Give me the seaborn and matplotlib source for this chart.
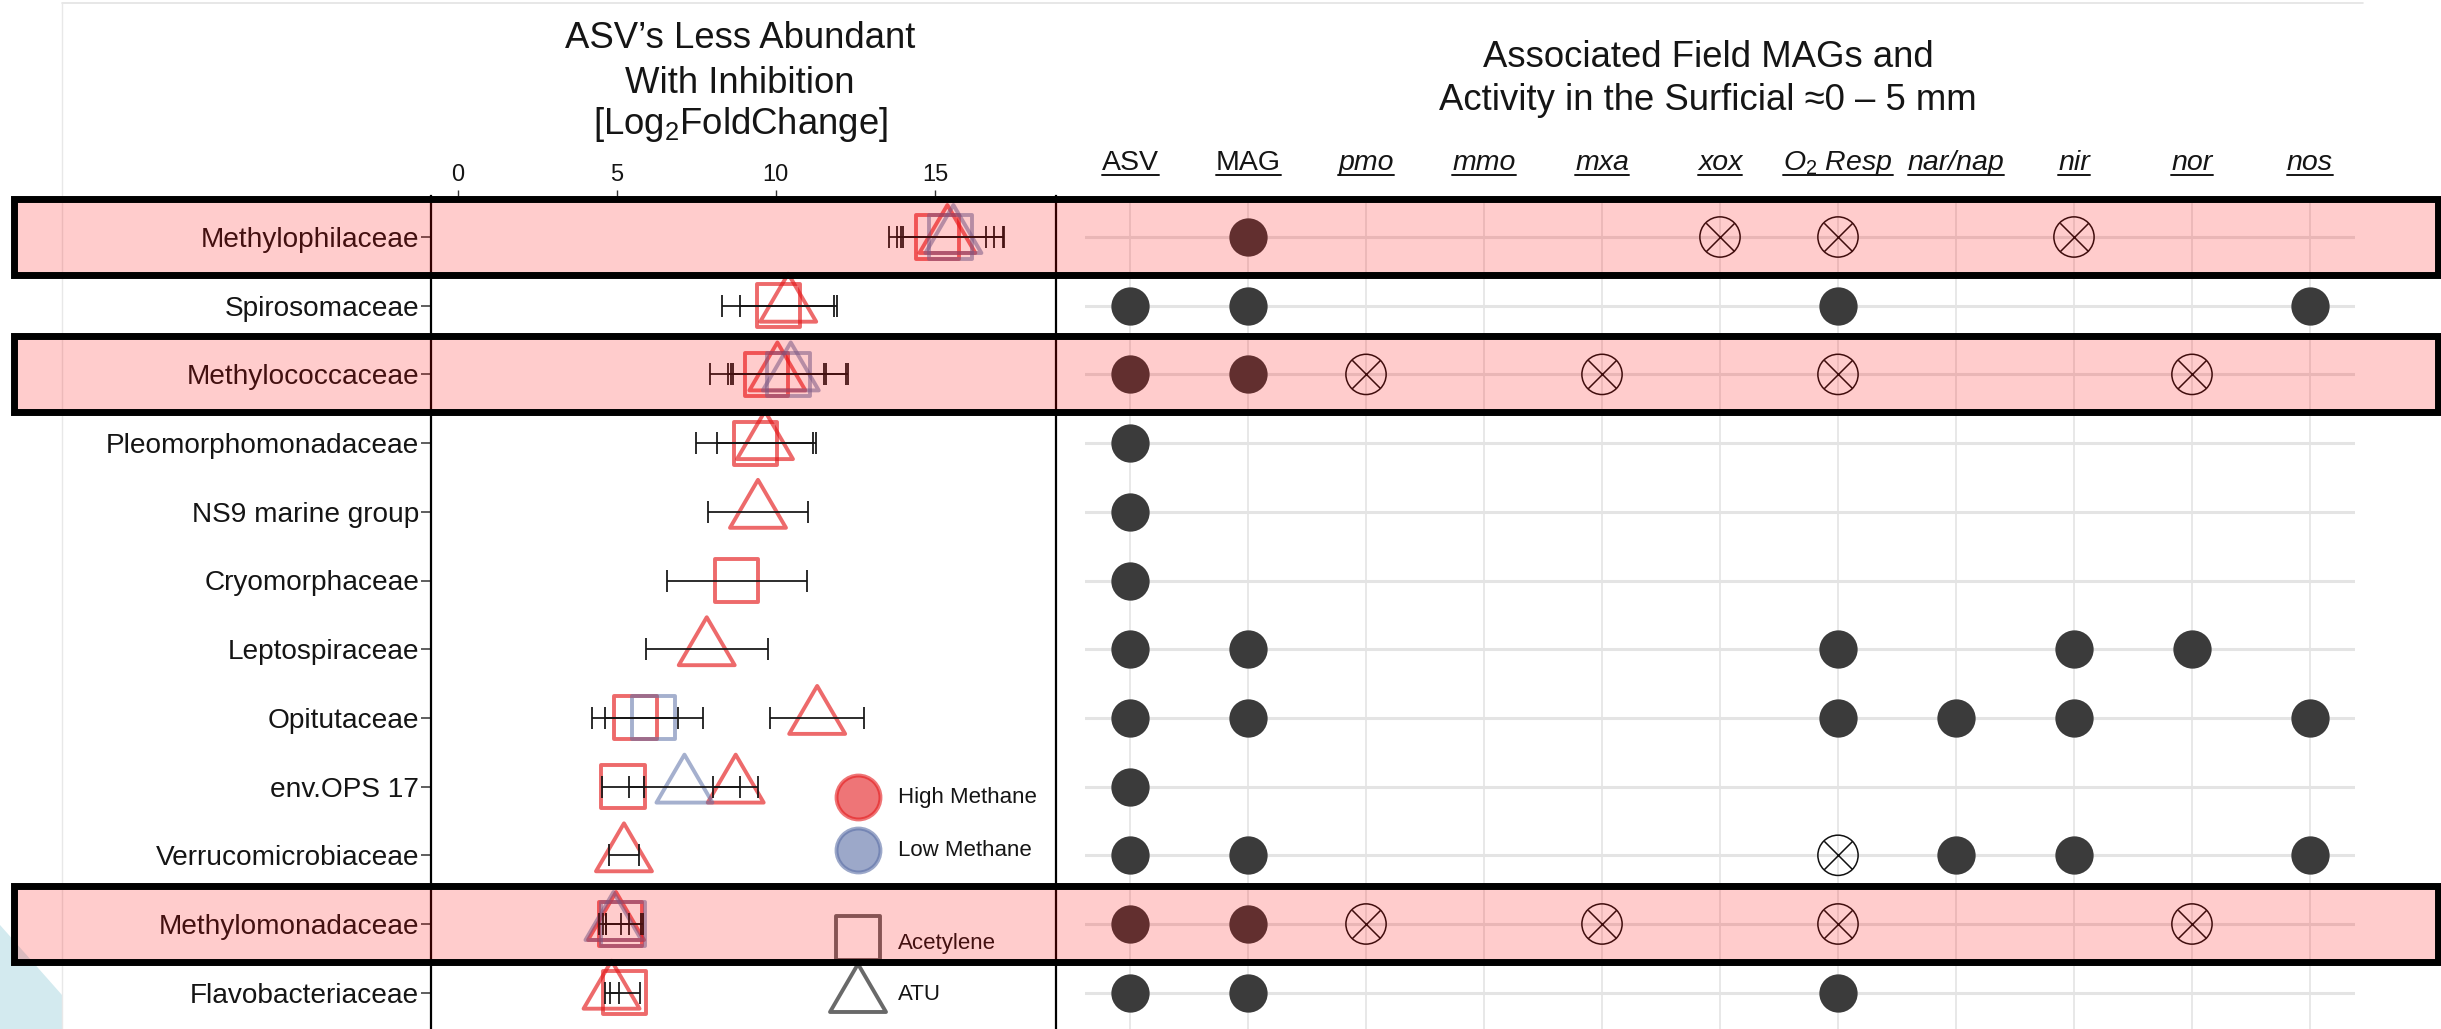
import numpy as np
import pandas as pd
import matplotlib
matplotlib.use("Agg")
import matplotlib.pyplot as plt
import matplotlib.transforms as mtransforms
from matplotlib.path import Path
from matplotlib.patches import Rectangle, Polygon
from matplotlib.lines import Line2D
import seaborn as sns

# ---------------------------------------------------------------- data
families = [
    "Methylophilaceae", "Spirosomaceae", "Methylococcaceae",
    "Pleomorphomonadaceae", "NS9 marine group", "Cryomorphaceae",
    "Leptospiraceae", "Opitutaceae", "env.OPS 17", "Verrucomicrobiaceae",
    "Methylomonadaceae", "Flavobacteriaceae",
]
highlighted = ["Methylophilaceae", "Methylococcaceae", "Methylomonadaceae"]

# log2 fold change of ASVs less abundant with inhibition
lfc_family = [
    "Methylophilaceae", "Methylophilaceae", "Methylophilaceae", "Methylophilaceae",
    "Spirosomaceae", "Spirosomaceae",
    "Methylococcaceae", "Methylococcaceae", "Methylococcaceae", "Methylococcaceae",
    "Pleomorphomonadaceae", "Pleomorphomonadaceae",
    "NS9 marine group",
    "Cryomorphaceae",
    "Leptospiraceae",
    "Opitutaceae", "Opitutaceae", "Opitutaceae",
    "env.OPS 17", "env.OPS 17", "env.OPS 17",
    "Verrucomicrobiaceae",
    "Methylomonadaceae", "Methylomonadaceae", "Methylomonadaceae", "Methylomonadaceae",
    "Flavobacteriaceae", "Flavobacteriaceae",
]
lfc_methane = [
    "High", "Low", "High", "Low",
    "High", "High",
    "High", "Low", "High", "Low",
    "High", "High",
    "High",
    "High",
    "High",
    "High", "Low", "High",
    "High", "Low", "High",
    "High",
    "High", "Low", "High", "Low",
    "High", "High",
]
lfc_inhibitor = [
    "Acetylene", "Acetylene", "ATU", "ATU",
    "Acetylene", "ATU",
    "Acetylene", "Acetylene", "ATU", "ATU",
    "Acetylene", "ATU",
    "ATU",
    "Acetylene",
    "ATU",
    "Acetylene", "Acetylene", "ATU",
    "Acetylene", "ATU", "ATU",
    "ATU",
    "Acetylene", "Acetylene", "ATU", "ATU",
    "Acetylene", "ATU",
]
lfc_value = [
    15.08, 15.48, 15.39, 15.58,
    10.08, 10.39,
    9.71, 10.40, 10.05, 10.47,
    9.37, 9.66,
    9.44,
    8.77,
    7.83,
    5.59, 6.17, 11.30,
    5.20, 7.13, 8.74,
    5.23,
    5.13, 5.20, 4.98, 4.90,
    5.26, 4.84,
]
lfc_se = [
    1.52, 1.66, 1.46, 1.58,
    1.76, 1.52,
    1.79, 1.80, 1.54, 1.80,
    1.88, 1.52,
    1.58,
    2.20,
    1.91,
    1.35, 1.54, 1.48,
    0.65, 1.73, 0.70,
    0.47,
    0.70, 0.55, 0.42, 0.25,
    0.46, 0.22,
]
x_ticks = [0, 5, 10, 15]

# associated field MAGs and activity: F = detected, X = not active
gene_columns = ["ASV", "MAG", "pmo", "mmo", "mxa", "xox", "O2 Resp",
                "nar/nap", "nir", "nor", "nos"]
gene_labels = ["ASV", "MAG", "pmo", "mmo", "mxa", "xox",
               r"$\mathit{O_2\ Resp}$", "nar/nap", "nir", "nor", "nos"]
gene_italic = [False, False, True, True, True, True, True, True, True, True, True]
gene_status = [
    ["",  "F", "",  "",  "",  "X", "X", "",  "X", "",  ""],
    ["F", "F", "",  "",  "",  "",  "F", "",  "",  "",  "F"],
    ["F", "F", "X", "",  "X", "",  "X", "",  "",  "X", ""],
    ["F", "",  "",  "",  "",  "",  "",  "",  "",  "",  ""],
    ["F", "",  "",  "",  "",  "",  "",  "",  "",  "",  ""],
    ["F", "",  "",  "",  "",  "",  "",  "",  "",  "",  ""],
    ["F", "F", "",  "",  "",  "",  "F", "",  "F", "F", ""],
    ["F", "F", "",  "",  "",  "",  "F", "F", "F", "",  "F"],
    ["F", "",  "",  "",  "",  "",  "",  "",  "",  "",  ""],
    ["F", "F", "",  "",  "",  "",  "X", "F", "F", "",  "F"],
    ["F", "F", "X", "",  "X", "",  "X", "",  "",  "X", ""],
    ["F", "F", "",  "",  "",  "",  "F", "",  "",  "",  ""],
]

# ---------------------------------------------------------------- style
sns.set_theme(style="white")
plt.rcParams["font.family"] = ["Liberation Sans", "DejaVu Sans"]
plt.rcParams["mathtext.fontset"] = "custom"
plt.rcParams["mathtext.rm"] = "Liberation Sans"
plt.rcParams["mathtext.it"] = "Liberation Sans:italic"
plt.rcParams["mathtext.bf"] = "Liberation Sans:bold"

TXT = "#151515"
HIGH = "#E41A1C"
LOW = "#5B6FA6"
DOT = "#3b3b3b"

W, H = 2441, 1029
fig = plt.figure(figsize=(W / 100, H / 100), dpi=100)
fig.patch.set_facecolor("white")


def fx(p):
    return p / W


def fy(p):
    return 1 - p / H


# panel geometry (pixels)
row0_y, row_step = 237.0, 68.7
ax_top = row0_y - 0.6 * row_step
ax_bot = row0_y + 11.6 * row_step
panel_h = (ax_bot - ax_top) / H

axl = fig.add_axes([fx(431), fy(ax_bot), fx(1056) - fx(431), panel_h])
axr = fig.add_axes([fx(1085.2), fy(ax_bot), fx(2354.8) - fx(1085.2), panel_h])

row_of = {f: i for i, f in enumerate(families)}

# ---------------------------------------------------------------- left panel
df = pd.DataFrame({
    "family": lfc_family, "methane": lfc_methane, "inhibitor": lfc_inhibitor,
    "lfc": lfc_value, "se": lfc_se,
})
df["row"] = df["family"].map(row_of)

tri = Path([(0, 32), (-28, -16), (28, -16), (0, 32)],
           [Path.MOVETO, Path.LINETO, Path.LINETO, Path.CLOSEPOLY])
shape_marker = {"Acetylene": "s", "ATU": tri}
shape_size = {"Acetylene": 961, "ATU": 2120}
methane_color = {"High": HIGH, "Low": LOW}
methane_alpha = {"High": 0.65, "Low": 0.55}

for (meth, inh), g in df.groupby(["methane", "inhibitor"]):
    axl.scatter(g["lfc"], g["row"], marker=shape_marker[inh], s=shape_size[inh],
                facecolors="none", edgecolors=methane_color[meth],
                linewidths=2.8, alpha=methane_alpha[meth], zorder=3)

axl.errorbar(df["lfc"], df["row"], xerr=df["se"], fmt="none", ecolor=TXT,
             elinewidth=1.4, capsize=8, capthick=1.4, zorder=4, alpha=0.9)

axl.set_xlim(-0.8326, 18.803)
axl.set_ylim(11.6, -0.6)
axl.set_xticks(x_ticks)
axl.set_xticklabels([str(t) for t in x_ticks])
axl.xaxis.tick_top()
axl.set_yticks(range(len(families)))
axl.set_yticklabels(families)
axl.tick_params(axis="x", top=True, bottom=False, length=4, width=1.0,
                colors="#333333", labelcolor=TXT, labelsize=17, pad=3)
axl.tick_params(axis="y", left=True, length=7, width=1.1, colors="#333333",
                labelcolor=TXT, labelsize=20.2, pad=1.5)
for side in ["top", "bottom"]:
    axl.spines[side].set_visible(False)
for side in ["left", "right"]:
    axl.spines[side].set_visible(True)
    axl.spines[side].set_color("black")
    axl.spines[side].set_linewidth(1.6)
axl.set_xlabel("")
axl.set_ylabel("")
axl.grid(False)

# legend keys
legend_items = [
    ("o", 1000, HIGH, True, 797, 797, "High Methane"),
    ("o", 1000, LOW, True, 850, 850, "Low Methane"),
    ("s", 961, "#444444", False, 938, 943, "Acetylene"),
    (tri, 2120, "#444444", False, 996, 995, "ATU"),
]
for mk, sz, col, filled, ky, ty, lab in legend_items:
    axl.scatter([fx(858)], [fy(ky)], marker=mk, s=sz, transform=fig.transFigure,
                facecolors=col if filled else "none", edgecolors=col,
                linewidths=2.8, alpha=0.6 if filled else 0.8, clip_on=False,
                zorder=3)
    axl.text(fx(898), fy(ty), lab, transform=fig.transFigure, ha="left",
             va="center", fontsize=16, color=TXT)

# ---------------------------------------------------------------- right panel
cells = []
for fam, states in zip(families, gene_status):
    for j, st in enumerate(states):
        if st:
            cells.append((row_of[fam], j, st))
cells = pd.DataFrame(cells, columns=["row", "col", "state"])
filled = cells[cells["state"] == "F"]
crossed = cells[cells["state"] == "X"]

sns.scatterplot(data=filled, x="col", y="row", color=DOT, s=760, linewidth=0,
                ax=axr, legend=False, zorder=3)
axr.scatter(crossed["col"], crossed["row"], marker="o", s=840,
            facecolors="none", edgecolors="#111111", linewidths=1.1, zorder=3)
axr.scatter(crossed["col"], crossed["row"], marker="x", s=420,
            color="#111111", linewidths=1.1, zorder=3)

axr.set_xlim(-0.38, 10.38)
axr.set_ylim(11.6, -0.6)
axr.set_xticks(range(len(gene_columns)))
axr.set_yticks(range(len(families)))
axr.set_xticklabels([])
axr.set_yticklabels([])
axr.tick_params(length=0)
axr.set_xlabel("")
axr.set_ylabel("")
for s in axr.spines.values():
    s.set_visible(False)
axr.set_axisbelow(True)
axr.xaxis.grid(True, color="#e2e2e2", linewidth=1.1)
axr.yaxis.grid(True, color="#e4e4e4", linewidth=2.2)

# column headers (underlined)
head_tf = mtransforms.blended_transform_factory(axr.transData, fig.transFigure)
head_texts = []
for j, (lab, it) in enumerate(zip(gene_labels, gene_italic)):
    t = fig.text(j, fy(170), lab, transform=head_tf, ha="center",
                 va="baseline", fontsize=20.5, color=TXT,
                 fontstyle="italic" if it else "normal")
    head_texts.append(t)

# ---------------------------------------------------------------- titles
for txt, y in [("ASV\u2019s Less Abundant", 48), ("With Inhibition", 93),
               (r"[Log$_2$FoldChange]", 134)]:
    fig.text(fx(740), fy(y), txt, ha="center", va="baseline", fontsize=26.3,
             color=TXT)
for txt, y in [("Associated Field MAGs and", 67),
               ("Activity in the Surficial \u22480 \u2013 5 mm", 110)]:
    fig.text(fx(1708), fy(y), txt, ha="center", va="baseline", fontsize=26.3,
             color=TXT)

# ---------------------------------------------------------------- page frame
fig.add_artist(Line2D([fx(62), fx(2363)], [fy(3), fy(3)], color="#e3e3e3",
                      linewidth=1.2, transform=fig.transFigure, zorder=0.5))
fig.add_artist(Line2D([fx(62), fx(62)], [fy(3), 0], color="#e8e8e8",
                      linewidth=1.0, transform=fig.transFigure, zorder=0.5))
fig.add_artist(Polygon([(0, fy(925)), (fx(62), fy(995)), (fx(62), 0), (0, 0)],
                       closed=True, facecolor="#d3eaef", edgecolor="none",
                       transform=fig.transFigure, zorder=0.4))

# ---------------------------------------------------------------- highlight bands
band_tf = mtransforms.blended_transform_factory(fig.transFigure, axl.transData)
for fam in highlighted:
    r = row_of[fam]
    band = Rectangle((fx(13.5), r - 0.553), fx(2437.5) - fx(13.5), 1.106,
                     transform=band_tf, facecolor=(1, 0, 0, 0.2),
                     edgecolor="black", linewidth=5.0, joinstyle="miter",
                     clip_on=False, zorder=10)
    fig.add_artist(band)

# underline the column headers
fig.canvas.draw()
renderer = fig.canvas.get_renderer()
for t in head_texts:
    bb = t.get_window_extent(renderer)
    fig.add_artist(Line2D([bb.x0 / W, bb.x1 / W], [fy(174.5), fy(174.5)],
                          color=TXT, linewidth=1.4, transform=fig.transFigure))

fig.savefig("out.png", dpi=100, facecolor="white")
